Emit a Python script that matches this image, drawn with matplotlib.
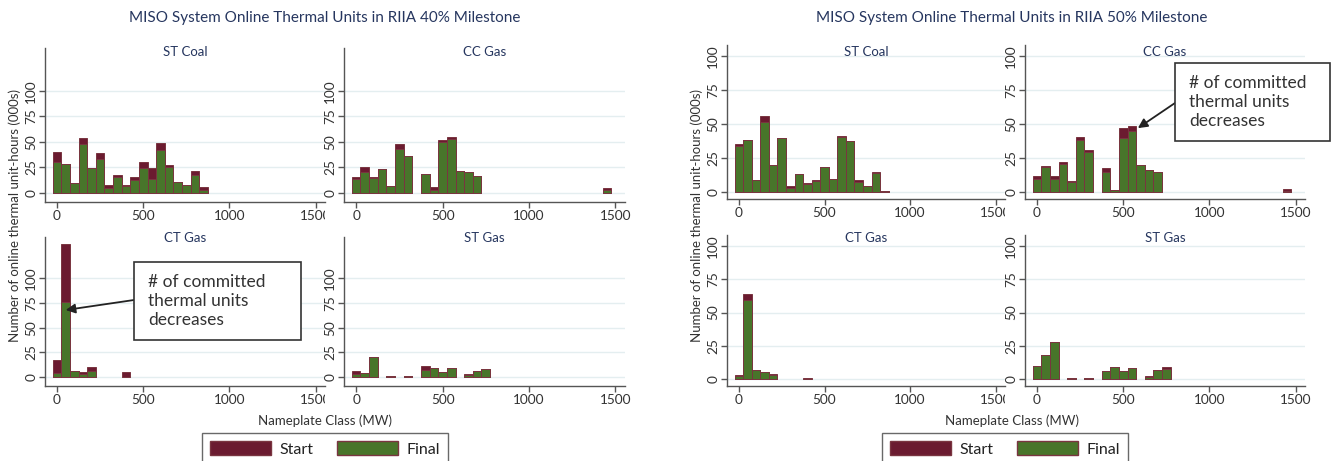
import matplotlib
matplotlib.use("Agg")
import matplotlib.pyplot as plt
from matplotlib.patches import Patch, Rectangle
from matplotlib.transforms import Bbox, TransformedBbox

plt.rcParams['font.family'] = ['Lato', 'DejaVu Sans']

# ---- data (thousand unit-hours per 50 MW nameplate class) ----
coal_bins = [0, 50, 100, 150, 200, 250, 300, 350, 400, 450, 500, 550, 600, 650, 700, 750, 800, 850]
cc_bins = [0, 50, 100, 150, 200, 250, 300, 400, 450, 500, 550, 600, 650, 700, 1450]
ct_bins = [0, 50, 100, 150, 200, 400]
stgas_bins = [0, 50, 100, 200, 300, 400, 450, 500, 550, 650, 700, 750]

# RIIA 40% milestone
coal40_start = [40, 28, 10, 54, 24, 39, 8, 17, 8, 16, 30, 24.5, 49, 27, 11, 7.5, 21, 5.5]
coal40_final = [30.5, 28, 10, 48, 24, 33, 5, 16, 7, 13, 24.5, 14, 42, 25, 11, 7.5, 17, 2.5]
cc40_start = [15.5, 25, 15.5, 23, 7, 48, 36.5, 18, 5.5, 52, 55, 21, 20.5, 16.5, 4.5]
cc40_final = [13.5, 20.5, 14.5, 23, 7, 43, 36.5, 18, 3, 50, 53, 21, 20, 16.5, 2.5]
ct40_start = [17, 135, 6, 5, 10.6, 5.3]
ct40_final = [4.3, 76.5, 6, 3.3, 6, 0.5]
stgas40_start = [6.6, 4.3, 20, 1.3, 1.3, 11, 9, 5, 9, 3.3, 6.3, 8.6]
stgas40_final = [3.3, 4.3, 20, 1.3, 1.3, 7.6, 9, 5, 9, 2.3, 6.3, 8.6]

# RIIA 50% milestone
coal50_start = [35.2, 38.6, 8.6, 56, 20, 39.4, 4.9, 13, 6.6, 8.8, 18.8, 10, 41, 37.9, 8.8, 4.9, 14.7, 1.2]
coal50_final = [34.2, 38.6, 8.6, 51.6, 20, 39.4, 3.4, 13, 6.1, 8.3, 18.8, 10, 40.3, 37.2, 7.3, 4.9, 13.9, 1.2]
cc50_start = [12, 19, 11.7, 21.8, 8.3, 40.6, 30.8, 17.4, 1.5, 47.4, 48.4, 20.3, 16.4, 14.7, 2.2]
cc50_final = [9.5, 18.6, 10, 20.8, 7.3, 38.6, 29.3, 14.9, 1.5, 39.6, 45.2, 20.3, 16.4, 14.7, 1.2]
ct50_start = [3.4, 64, 7.1, 5.2, 4.2, 1]
ct50_final = [2.2, 59.5, 7.1, 5.2, 3.4, 0.3]
stgas50_start = [10.3, 18, 28, 1.2, 1.2, 6.1, 9.3, 6.1, 8.6, 2.7, 7.1, 9.1]
stgas50_final = [10.3, 18, 28, 1.2, 1.2, 6.1, 9.3, 6.1, 8.6, 1.7, 7.1, 7.9]

x_ticks = [0, 500, 1000, 1500]
y_ticks = [0, 25, 50, 75, 100]

# ---- style ----
W, H = 1331, 461
START_C = '#6b1b30'
FINAL_C = '#48752a'
EDGE_C = '#7a3540'
NAVY = '#26365f'
GRID_C = '#e4eef0'
AXIS_C = '#555555'

fig = plt.figure(figsize=(W / 100, H / 100), dpi=100)


def px_axes(x0, y0, x1, y1):
    # axes placed by pixel box (top-left origin)
    return fig.add_axes([x0 / W, 1 - y1 / H, (x1 - x0) / W, (y1 - y0) / H])


def draw_panel(ax, bins, start, final, title, ylim, y0, y1, clip_right=None):
    ax.bar(bins, start, width=50, color=START_C, edgecolor=EDGE_C, linewidth=0.7, zorder=2)
    ax.bar(bins, final, width=50, color=FINAL_C, edgecolor=EDGE_C, linewidth=0.7, zorder=3)
    ax.set_xlim(-70, 1555)
    ax.set_ylim(*ylim)
    ax.set_xticks(x_ticks)
    ax.set_yticks(y_ticks)
    ax.grid(axis='y', color=GRID_C, linewidth=1, zorder=0)
    ax.set_axisbelow(True)
    for s in ['top', 'right']:
        ax.spines[s].set_visible(False)
    for s in ['left', 'bottom']:
        ax.spines[s].set_color(AXIS_C)
        ax.spines[s].set_linewidth(1)
    ax.tick_params(axis='both', colors=AXIS_C, length=4, width=1, labelsize=9.8,
                   labelcolor='#333333', pad=1.5)
    ax.tick_params(axis='y', labelrotation=90)
    for lbl in ax.get_yticklabels():
        lbl.set_va('center')
    if clip_right is not None:
        box = TransformedBbox(Bbox.from_extents(0, 0, clip_right / W, 1), fig.transFigure)
        for lbl in ax.get_xticklabels():
            lbl.set_clip_on(True)
            lbl.set_clip_box(box)
    # facet title sits inside the top of the plot region
    yc = 52 if y0 < 100 else 238
    ax.text(0.5, (y1 - yc) / (y1 - y0), title, transform=ax.transAxes, ha='center',
            va='center', fontsize=9.5, color=NAVY)


groups = [
    dict(title='MISO System Online Thermal Units in RIIA 40% Milestone', tx=325,
         cols=[(45, 325), (344, 625)], rows=[(48, 202), (237, 386)],
         ylims=[(-9, 142), (-9, 142)], ylab_x=15, legend_x=202,
         data=[(coal_bins, coal40_start, coal40_final, 'ST Coal'),
               (cc_bins, cc40_start, cc40_final, 'CC Gas'),
               (ct_bins, ct40_start, ct40_final, 'CT Gas'),
               (stgas_bins, stgas40_start, stgas40_final, 'ST Gas')]),
    dict(title='MISO System Online Thermal Units in RIIA 50% Milestone', tx=1012,
         cols=[(727, 1005), (1025, 1305)], rows=[(45, 199), (235, 386)],
         ylims=[(-5, 108), (-5, 108)], ylab_x=697, legend_x=882,
         data=[(coal_bins, coal50_start, coal50_final, 'ST Coal'),
               (cc_bins, cc50_start, cc50_final, 'CC Gas'),
               (ct_bins, ct50_start, ct50_final, 'CT Gas'),
               (stgas_bins, stgas50_start, stgas50_final, 'ST Gas')]),
]

all_axes = []
for g in groups:
    axs = []
    for i, (bins, st, fn, name) in enumerate(g['data']):
        r, c = divmod(i, 2)
        x0, x1 = g['cols'][c]
        y0, y1 = g['rows'][r]
        ax = px_axes(x0, y0, x1, y1)
        draw_panel(ax, bins, st, fn, name, g['ylims'][r], y0, y1,
                   clip_right=x1 if c == 0 else None)
        axs.append(ax)
    all_axes.append(axs)

    fig.text(g['tx'] / W, 1 - 18 / H, g['title'], ha='center', va='center',
             fontsize=11, color=NAVY)
    fig.text(g['tx'] / W, 1 - 421 / H, 'Nameplate Class (MW)', ha='center', va='center',
             fontsize=9.5, color='#333333')
    fig.text(g['ylab_x'] / W, 1 - 215 / H, 'Number of online thermal unit-hours (000s)',
             ha='center', va='center', rotation=90, fontsize=9.5, color='#333333')

    handles = [Patch(facecolor=START_C, edgecolor=EDGE_C, label='Start'),
               Patch(facecolor=FINAL_C, edgecolor=EDGE_C, label='Final')]
    leg = fig.legend(handles=handles, loc='upper left', ncol=2,
                     bbox_to_anchor=(g['legend_x'] / W, 1 - 433 / H), frameon=True,
                     fancybox=False, fontsize=11.5, handlelength=3.8, handleheight=1.0,
                     handletextpad=0.55, columnspacing=1.5, borderpad=0.5,
                     borderaxespad=0)
    leg.get_frame().set_edgecolor('#444444')
    leg.get_frame().set_linewidth(1)
    for t in leg.get_texts():
        t.set_color('#222222')

# ---- call-out boxes ----
note = '# of committed\nthermal units\ndecreases'
callouts = [
    dict(ax=all_axes[0][2], box=(134, 262, 301, 340), tx=148, xy=(50, 68), start=(134, 300)),
    dict(ax=all_axes[1][1], box=(1175, 63, 1330, 141), tx=1189, xy=(585, 47), start=(1175, 103)),
]
for co in callouts:
    bx0, by0, bx1, by1 = co['box']
    fig.patches.append(Rectangle((bx0 / W, 1 - by1 / H), (bx1 - bx0) / W, (by1 - by0) / H,
                                 transform=fig.transFigure, facecolor='white',
                                 edgecolor='#333333', linewidth=1.2, zorder=5))
    fig.text(co['tx'] / W, 1 - ((by0 + by1) / 2) / H, note, ha='left', va='center',
             fontsize=12.5, color='#333333', linespacing=1.2, zorder=6)
    co['ax'].annotate('', xy=co['xy'], xycoords='data',
                      xytext=(co['start'][0] / W, 1 - co['start'][1] / H),
                      textcoords='figure fraction', annotation_clip=False,
                      arrowprops=dict(arrowstyle='-|>', color='#222222', lw=1.3,
                                      mutation_scale=14, shrinkA=0, shrinkB=0), zorder=6)

fig.savefig('out.png', dpi=100)
